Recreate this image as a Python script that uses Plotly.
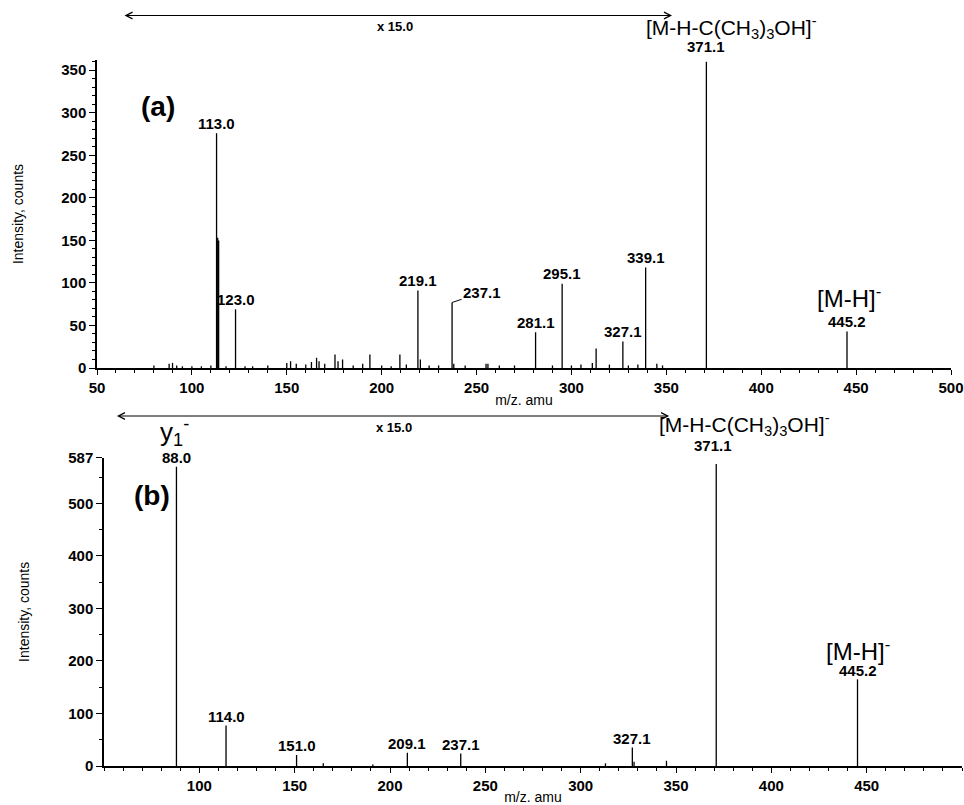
import plotly.graph_objects as go

# ---------------- data: panel (a) ----------------
mz_a = [80, 88, 89.8, 92, 95, 100, 105, 110, 113.0, 113.6, 114.1, 118, 123.0, 128, 132, 140,
        150, 152, 155, 160, 163, 165.7, 167, 170, 175.4, 177, 179.4, 185, 190, 193.8, 200,
        205, 209.6, 213, 219.1, 220.4, 225, 230, 237.1, 238, 244, 255, 256, 262, 270,
        281.1, 290, 295.1, 300, 305, 311, 313.0, 320, 327.1, 330, 335, 339.1, 345, 348,
        371.1, 445.2]
int_a = [3, 5, 6, 3, 2, 2, 2, 3, 276, 153, 150, 2, 69, 2, 2, 3,
         6, 8, 5, 4, 7, 12, 8, 5, 16, 8, 10, 3, 5, 16, 3,
         2, 16, 4, 91, 10, 3, 3, 77, 5, 3, 5, 5, 3, 3,
         42, 3, 99, 3, 4, 6, 23, 4, 31, 3, 4, 118, 5, 3,
         360, 43]
labels_a = [113.0, 123.0, 219.1, 237.1, 281.1, 295.1, 327.1, 339.1, 371.1, 445.2]

# ---------------- data: panel (b) ----------------
mz_b = [88.0, 114.0, 151.0, 165, 191, 209.1, 237.1, 313, 327.1, 328, 345, 371.1, 445.2]
int_b = [570, 77, 21, 5, 3, 25, 24, 5, 35, 8, 10, 575, 165]
labels_b = [88.0, 114.0, 151.0, 209.1, 237.1, 327.1, 371.1, 445.2]

xticks_a = [50, 100, 150, 200, 250, 300, 350, 400, 450, 500]
yticks_a = [0, 50, 100, 150, 200, 250, 300, 350]
xticks_b = [100, 150, 200, 250, 300, 350, 400, 450]
yticks_b = [0, 100, 200, 300, 400, 500, 587]

FONT = "Arial, Liberation Sans, sans-serif"
OFF = 0               # page body margin removed via post_script
W, H = 964, 805


def fx(p):            # page pixel x -> paper fraction
    return (p - OFF) / W


def fy(p):            # page pixel y -> paper fraction
    return 1 - (p - OFF) / H


def stems(mz, inten):
    xs, ys = [], []
    for m, v in zip(mz, inten):
        xs += [m, m, None]
        ys += [0, v, None]
    return xs, ys


fig = go.Figure()
xa, ya = stems(mz_a, int_a)
xb, yb = stems(mz_b, int_b)
fig.add_trace(go.Scatter(x=xa, y=ya, mode="lines", line=dict(color="black", width=1.3),
                         xaxis="x", yaxis="y", hoverinfo="skip", showlegend=False))
fig.add_trace(go.Scatter(x=xb, y=yb, mode="lines", line=dict(color="black", width=1.3),
                         xaxis="x2", yaxis="y2", hoverinfo="skip", showlegend=False))

tickfont = dict(family=FONT, size=15, color="black", weight="bold")
titlefont = dict(family=FONT, size=14, color="black")


def xax(domain, rng, tickvals, anchor, standoff):
    return dict(domain=domain, range=rng, anchor=anchor, tickmode="array", tickvals=tickvals,
                ticks="outside", ticklen=5, tickwidth=1.3, tickcolor="black",
                showline=True, linecolor="black", linewidth=1.5, showgrid=False, zeroline=False,
                minor=dict(tickmode="linear", tick0=50, dtick=10, ticks="outside", ticklen=3,
                           tickwidth=1, tickcolor="black", showgrid=False),
                tickfont=tickfont, automargin=False,
                title=dict(text="m/z. amu", font=titlefont, standoff=standoff))


def yax(domain, rng, tickvals, anchor, mdtick, standoff):
    return dict(domain=domain, range=rng, anchor=anchor, tickmode="array", tickvals=tickvals,
                ticks="outside", ticklen=6, tickwidth=1.3, tickcolor="black",
                showline=True, linecolor="black", linewidth=1.5, showgrid=False, zeroline=False,
                minor=dict(tickmode="linear", tick0=0, dtick=mdtick, ticks="outside", ticklen=3,
                           tickwidth=1, tickcolor="black", showgrid=False),
                tickfont=tickfont, automargin=False,
                title=dict(text="Intensity, counts", font=titlefont, standoff=standoff))


fig.update_layout(
    width=W, height=H, paper_bgcolor="white", plot_bgcolor="white",
    margin=dict(l=0, r=0, t=0, b=0, autoexpand=False),
    xaxis=xax([fx(97), fx(951)], [50, 500], xticks_a, "y", 0),
    yaxis=yax([fy(368), fy(60)], [0, 362], yticks_a, "x", 10, 34),
    xaxis2=xax([fx(104), fx(962)], [50, 500], xticks_b, "y2", 0),
    yaxis2=yax([fy(766), fy(457.7)], [0, 587], yticks_b, "x2", 50, 35),
)

# zero markers (triangles)
for xr, yr in (("x", "y"), ("x2", "y2")):
    fig.add_shape(type="path", xref=xr, yref=yr, xsizemode="pixel", ysizemode="pixel",
                  xanchor=50, yanchor=0, path="M-9,-5 L0,0 L-9,5 Z",
                  fillcolor="black", line=dict(width=0))

numfont = dict(family=FONT, size=15, color="black", weight="bold")
ann = []


def lab(xr, yr, m, v, dx=0, dy=10):
    ann.append(dict(x=m, y=v, xref=xr, yref=yr, text=f"{m:.1f}", showarrow=False,
                    xanchor="center", yanchor="middle", xshift=dx, yshift=dy, font=numfont))


lookup_a = dict(zip(mz_a, int_a))
lookup_b = dict(zip(mz_b, int_b))
for m in labels_a:
    if m == 237.1:
        ann.append(dict(x=m, y=lookup_a[m], xref="x", yref="y", text="237.1", showarrow=True,
                        arrowhead=0, arrowwidth=1, arrowcolor="black", ax=30, ay=-10,
                        xanchor="center", yanchor="middle", font=numfont, standoff=0))
    elif m == 371.1:
        lab("x", "y", m, lookup_a[m], dy=15)
    else:
        lab("x", "y", m, lookup_a[m])
for m in labels_b:
    if m == 371.1:
        lab("x2", "y2", m, lookup_b[m], dx=-3, dy=18)
    else:
        lab("x2", "y2", m, lookup_b[m], dy=9)

big = dict(family=FONT, size=21, color="black")
ann += [
    dict(x=371.1, y=lookup_a[371.1], xref="x", yref="y",
         text="[M-H-C(CH<sub>3</sub>)<sub>3</sub>OH]<sup>-</sup>", showarrow=False,
         xanchor="center", yanchor="middle", xshift=25, yshift=34, font=big),
    dict(x=371.1, y=lookup_b[371.1], xref="x2", yref="y2",
         text="[M-H-C(CH<sub>3</sub>)<sub>3</sub>OH]<sup>-</sup>", showarrow=False,
         xanchor="center", yanchor="middle", xshift=28, yshift=39, font=big),
    dict(x=445.2, y=lookup_a[445.2], xref="x", yref="y", text="[M-H]<sup>-</sup>",
         showarrow=False, xanchor="center", yanchor="middle", xshift=2, yshift=34,
         font=dict(family=FONT, size=24, color="black")),
    dict(x=445.2, y=lookup_b[445.2], xref="x2", yref="y2", text="[M-H]<sup>-</sup>",
         showarrow=False, xanchor="center", yanchor="middle", xshift=0, yshift=29,
         font=dict(family=FONT, size=24, color="black")),
    dict(x=88.0, y=lookup_b[88.0], xref="x2", yref="y2", text="y<sub>1</sub><sup>-</sup>",
         showarrow=False, xanchor="center", yanchor="middle", xshift=-2, yshift=35,
         font=dict(family=FONT, size=26, color="black")),
    dict(x=fx(158), y=fy(107), xref="paper", yref="paper", text="<b>(a)</b>",
         showarrow=False, xanchor="center", yanchor="middle",
         font=dict(family=FONT, size=28, color="black")),
    dict(x=fx(152), y=fy(495), xref="paper", yref="paper", text="<b>(b)</b>",
         showarrow=False, xanchor="center", yanchor="middle",
         font=dict(family=FONT, size=28, color="black")),
    dict(x=207, y=fy(27), xref="x", yref="paper", text="x 15.0", showarrow=False,
         xanchor="center", yanchor="middle",
         font=dict(family=FONT, size=13, color="black", weight="bold")),
    dict(x=202, y=fy(427), xref="x2", yref="paper", text="x 15.0", showarrow=False,
         xanchor="center", yanchor="middle",
         font=dict(family=FONT, size=13, color="black", weight="bold")),
]

# double-headed "x 15.0" range arrows
for xr, x0, x1, yp in (("x", 63.7, 353.0, fy(15.5)), ("x2", 56.0, 346.4, fy(416))):
    ann.append(dict(x=x1, y=yp, xref=xr, yref="paper", ax=x0, ay=0, axref=xr, ayref="pixel",
                    text="", showarrow=True, arrowside="end+start", arrowhead=5,
                    startarrowhead=5, arrowsize=1.3, startarrowsize=1.3, arrowwidth=1,
                    arrowcolor="black"))

fig.update_layout(annotations=ann)
fig.write_html("out.html",
               config={"displayModeBar": False},
               post_script="document.body.style.margin='0px';"
                           "document.body.style.overflow='hidden';")
